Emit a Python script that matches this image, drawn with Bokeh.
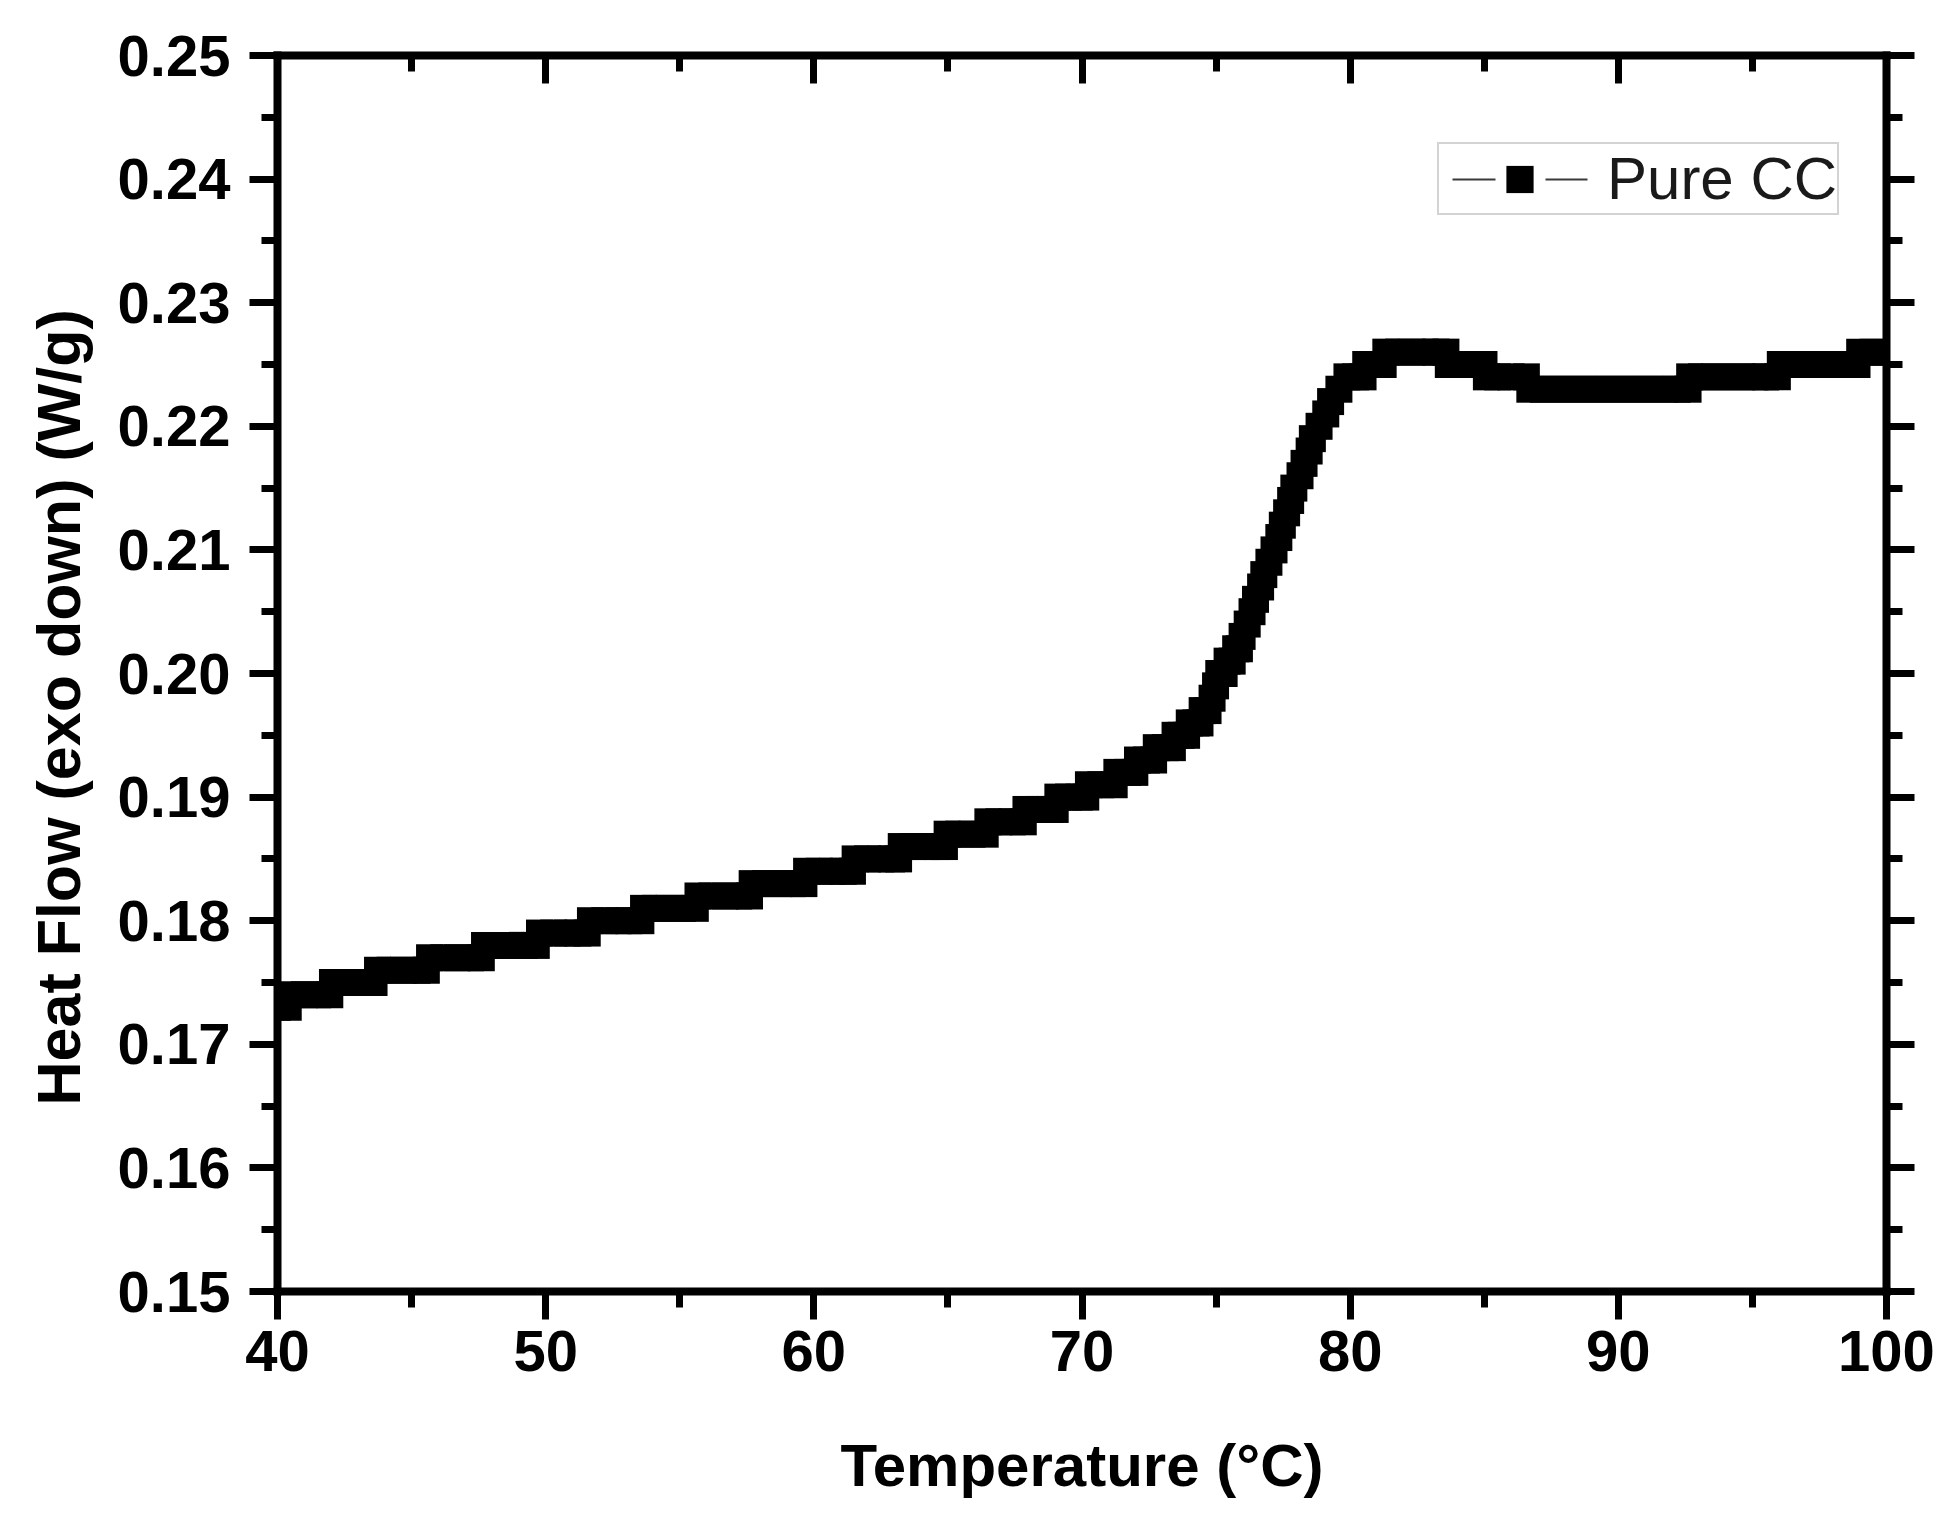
from bokeh.plotting import figure
from bokeh.models import (Range1d, LinearAxis, FixedTicker, Legend, LegendItem,
                          Title, CustomLabelingPolicy)
from bokeh.embed import file_html
from bokeh.resources import INLINE

# ---- data (Temperature in deg C, Heat flow in W/g) ----
temperature_c = [
    40.0, 40.4,
    40.5, 41.0, 41.5, 41.95,
    42.05, 42.5, 43.0, 43.6,
    43.73, 44.2, 44.7, 45.2, 45.55,
    45.67, 46.2, 46.7, 47.2, 47.6,
    47.72, 48.2, 48.7, 49.2, 49.65,
    49.77, 50.3, 50.8, 51.2, 51.55,
    51.67, 52.2, 52.7, 53.1, 53.55,
    53.65, 54.1, 54.6, 55.1, 55.58,
    55.68, 56.2, 56.7, 57.2, 57.6,
    57.7, 58.2, 58.7, 59.2, 59.63,
    59.73, 60.2, 60.7, 61.1, 61.44,
    61.54, 62.0, 62.5, 62.9, 63.16,
    63.26, 63.7, 64.2, 64.6, 64.87,
    64.97, 65.4, 65.9, 66.39,
    66.49, 66.9, 67.4, 67.81,
    67.91, 68.4, 68.8, 69.0,
    69.10, 69.5, 69.9, 70.14,
    70.24, 70.7, 71.2,
    71.30, 71.7, 71.97,
    72.07, 72.4, 72.67,
    72.77, 73.1, 73.37,
    73.47, 73.7, 73.9,
    74.00, 74.25, 74.4,
    74.48, 74.7,
    74.85,
    74.98,
    75.10, 75.3,
    75.41, 75.6,
    75.73, 75.87,
    75.97, 76.16, 76.34, 76.47, 76.66, 76.78, 76.97, 77.16, 77.34, 77.47,
    77.63, 77.78, 77.90, 78.13, 78.28, 78.47, 78.59, 78.84, 79.09, 79.27,
    79.58,
    79.88, 80.2, 80.48,
    80.58, 80.9, 81.23,
    81.33, 81.8, 82.3, 82.8, 83.2, 83.57,
    83.66, 84.1, 84.5, 84.99,
    85.08, 85.5, 86.0, 86.57,
    86.70, 87.2, 87.7, 88.2, 88.7, 89.2, 89.7, 90.2, 90.7, 91.2, 91.7, 92.2, 92.60,
    92.66, 93.1, 93.6, 94.1, 94.6, 95.1, 95.5, 95.93,
    96.04, 96.5, 97.0, 97.5, 98.0, 98.5, 98.90,
    99.00, 99.5, 100.0,
]
heat_flow_w_g = [
    0.173, 0.173,
    0.174, 0.174, 0.174, 0.174,
    0.175, 0.175, 0.175, 0.175,
    0.176, 0.176, 0.176, 0.176, 0.176,
    0.177, 0.177, 0.177, 0.177, 0.177,
    0.178, 0.178, 0.178, 0.178, 0.178,
    0.179, 0.179, 0.179, 0.179, 0.179,
    0.180, 0.180, 0.180, 0.180, 0.180,
    0.181, 0.181, 0.181, 0.181, 0.181,
    0.182, 0.182, 0.182, 0.182, 0.182,
    0.183, 0.183, 0.183, 0.183, 0.183,
    0.184, 0.184, 0.184, 0.184, 0.184,
    0.185, 0.185, 0.185, 0.185, 0.185,
    0.186, 0.186, 0.186, 0.186, 0.186,
    0.187, 0.187, 0.187, 0.187,
    0.188, 0.188, 0.188, 0.188,
    0.189, 0.189, 0.189, 0.189,
    0.190, 0.190, 0.190, 0.190,
    0.191, 0.191, 0.191,
    0.192, 0.192, 0.192,
    0.193, 0.193, 0.193,
    0.194, 0.194, 0.194,
    0.195, 0.195, 0.195,
    0.196, 0.196, 0.196,
    0.197, 0.197,
    0.198,
    0.199,
    0.200, 0.200,
    0.201, 0.201,
    0.202, 0.202,
    0.203, 0.204, 0.205, 0.206, 0.207, 0.208, 0.209, 0.210, 0.211, 0.212,
    0.213, 0.214, 0.215, 0.216, 0.217, 0.218, 0.219, 0.220, 0.221, 0.222,
    0.223,
    0.224, 0.224, 0.224,
    0.225, 0.225, 0.225,
    0.226, 0.226, 0.226, 0.226, 0.226, 0.226,
    0.225, 0.225, 0.225, 0.225,
    0.224, 0.224, 0.224, 0.224,
    0.223, 0.223, 0.223, 0.223, 0.223, 0.223, 0.223, 0.223, 0.223, 0.223, 0.223, 0.223, 0.223,
    0.224, 0.224, 0.224, 0.224, 0.224, 0.224, 0.224, 0.224,
    0.225, 0.225, 0.225, 0.225, 0.225, 0.225, 0.225,
    0.226, 0.226, 0.226,
]
series_label = "Pure CC"
x_title = "Temperature (°C)"
y_title = "Heat Flow (exo down) (W/g)"

x_ticks = [40, 50, 60, 70, 80, 90, 100]
x_minor_ticks = [45, 55, 65, 75, 85, 95]
y_ticks = [0.15, 0.16, 0.17, 0.18, 0.19, 0.20, 0.21, 0.22, 0.23, 0.24, 0.25]
y_tick_labels = ["0.15", "0.16", "0.17", "0.18", "0.19", "0.20",
                 "0.21", "0.22", "0.23", "0.24", "0.25"]
y_minor_ticks = [0.155, 0.165, 0.175, 0.185, 0.195, 0.205,
                 0.215, 0.225, 0.235, 0.245]

FONT = "Liberation Sans"

p = figure(frame_width=1609, frame_height=1236,
           x_range=Range1d(40, 100), y_range=Range1d(0.15, 0.25),
           output_backend="svg", toolbar_location=None,
           min_border_left=277, min_border_right=59,
           min_border_top=55, min_border_bottom=216)
p.outline_line_color = None
p.grid.visible = False
p.background_fill_color = "white"
p.border_fill_color = "white"

xt = FixedTicker(ticks=x_ticks, minor_ticks=x_minor_ticks)
yt = FixedTicker(ticks=y_ticks, minor_ticks=y_minor_ticks)

top_axis = LinearAxis(ticker=xt)
right_axis = LinearAxis(ticker=yt)
p.add_layout(top_axis, "above")
p.add_layout(right_axis, "right")

for ax in p.xaxis + p.yaxis:
    ax.axis_line_width = 8
    ax.axis_line_color = "black"
    ax.axis_line_cap = "square"
    ax.major_tick_line_width = 7
    ax.minor_tick_line_width = 7
    ax.major_tick_line_color = "black"
    ax.minor_tick_line_color = "black"
    ax.major_label_text_font = FONT
    ax.major_label_text_font_style = "bold"
    ax.major_label_text_font_size = "58px"
    ax.major_label_text_color = "black"
    ax.axis_label_text_font = FONT
    ax.axis_label_text_font_style = "bold"
    ax.axis_label_text_font_size = "60px"
    ax.axis_label_text_color = "black"

bottom = p.below[0]
left = p.left[0]
bottom.ticker = xt
left.ticker = yt
left.major_label_overrides = {t: s for t, s in zip(y_ticks, y_tick_labels)}

for ax in (bottom, left, right_axis):
    ax.major_tick_out = 28
    ax.major_tick_in = 0
    ax.minor_tick_out = 16
    ax.minor_tick_in = 0

top_axis.major_tick_in = 28
top_axis.major_tick_out = 0
top_axis.minor_tick_in = 16
top_axis.minor_tick_out = 0

# mirror axes: ticks only, no tick labels
for ax in (top_axis, right_axis):
    ax.major_label_text_font_size = "0px"
    ax.major_label_standoff = 0
    ax.major_label_policy = CustomLabelingPolicy(code="return []")

bottom.major_label_standoff = 11
left.major_label_standoff = 19
bottom.axis_label = x_title
bottom.axis_label_standoff = 58

# y-axis title: a side title, placed a little below the frame centre as in the original
y_title_obj = Title(text=y_title, align="left", vertical_align="bottom",
                    offset=186, standoff=44,
                    text_font=FONT, text_font_style="bold",
                    text_font_size="61px", text_color="black")
p.add_layout(y_title_obj, "left")

line_r = p.line(temperature_c, heat_flow_w_g, line_color="#3a3a3a", line_width=2,
                line_dash="0 13 43 50 42 13")
pts_r = p.scatter(temperature_c, heat_flow_w_g, marker="square", size=27,
                  fill_color="black", line_color=None)

legend = Legend(items=[LegendItem(label=series_label, renderers=[line_r, pts_r])],
                location=(1160, 1076), margin=0, padding=0, spacing=0,
                glyph_width=161, glyph_height=68, label_standoff=7,
                label_width=230,
                label_text_font=FONT, label_text_font_size="60px",
                label_text_color="#1a1a1a",
                border_line_color="#a8a8a8", border_line_width=2.5,
                background_fill_color="white", background_fill_alpha=1.0)
p.add_layout(legend)

open("out.html", "w").write(file_html(p, INLINE))
